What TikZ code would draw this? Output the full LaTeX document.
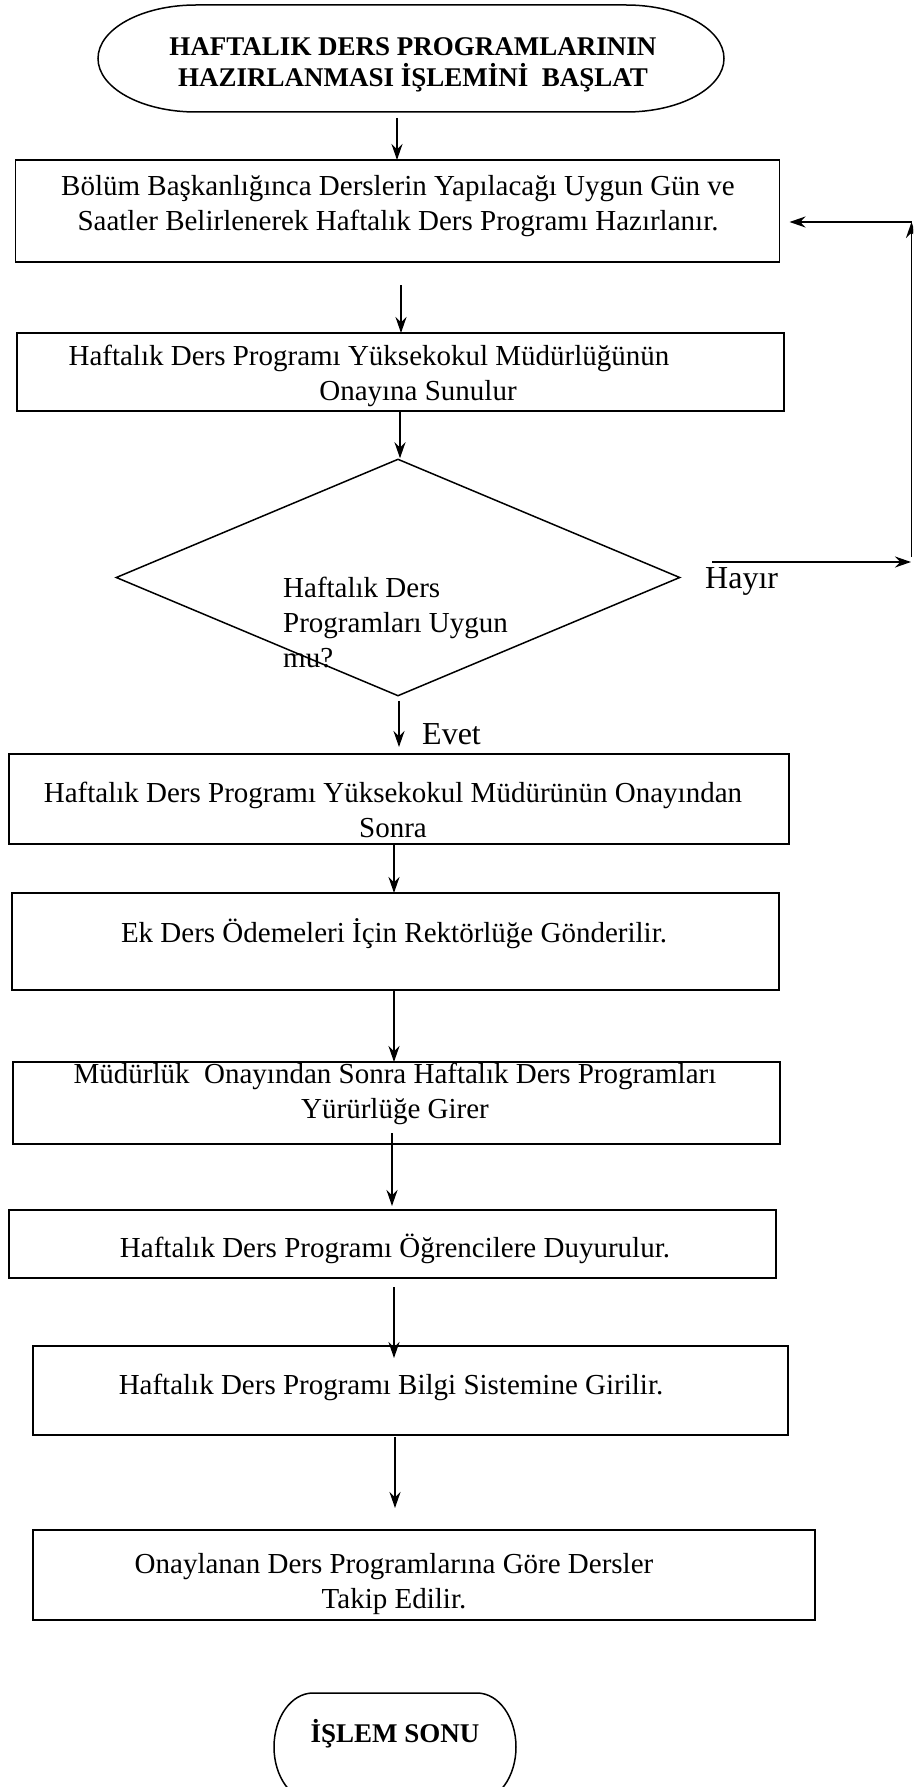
\documentclass[tikz,border=0pt]{standalone}
\usepackage{fontspec}
\setmainfont{Liberation Serif}
\usetikzlibrary{arrows.meta,shapes.geometric}
\tikzset{
  stepbox/.style={draw, line width=1.5pt, inner sep=0pt, outer sep=0pt},
  termbox/.style={inner sep=0pt, outer sep=0pt},
  txt/.style={align=center, inner sep=0pt, font=\fontsize{29}{35}\selectfont},
  ttl/.style={align=center, inner sep=0pt, font=\fontsize{27}{31}\selectfont\bfseries},
  lbl/.style={inner sep=0pt, font=\fontsize{32}{38}\selectfont},
  arr/.style={line width=1.9pt, -{Stealth[length=16pt,width=11pt]}},
}

\begin{document}
\begin{tikzpicture}[x=1pt,y=-1pt]
  \useasboundingbox (0,0) rectangle (913,1787);
  \clip (0,0) rectangle (913,1787);
  % start
  \node[termbox, minimum width=626pt, minimum height=107pt] (start) at (411,58.5) {};
  \draw[line width=1.5pt] ([xshift=98pt]start.north west) -- ([xshift=-98pt]start.north east)
    arc[start angle=-90, end angle=90, x radius=98, y radius=53.5]
    -- ([xshift=98pt]start.south west)
    arc[start angle=90, end angle=270, x radius=98, y radius=53.5] -- cycle;
  \node[ttl, anchor=base] (title) at (413,87) {HAFTALIK DERS PROGRAMLARININ\\HAZIRLANMASI İŞLEMİNİ\ \ BAŞLAT};
  % steps
  \node[stepbox, minimum width=764pt, minimum height=102pt] (b1) at (397.5,211) {};
  \node[txt, anchor=base] (t1) at (398,231) {Bölüm Başkanlığınca Derslerin Yapılacağı Uygun Gün ve\\Saatler Belirlenerek Haftalık Ders Programı Hazırlanır.};
  \node[stepbox, minimum width=767pt, minimum height=78pt] (b2) at (400.5,372) {};
  \node[txt, anchor=base] (t2) at (418,400) {Haftalık Ders Programı Yüksekokul Müdürlüğünün\hspace*{98pt}\\Onayına Sunulur};
  % decision
  \node[draw, diamond, line width=1.5pt, inner sep=0pt, minimum width=564pt, minimum height=237pt] (d) at (398,577.5) {};
  \node[txt, align=left, anchor=base west] (dt) at (283,667) {Haftalık Ders\\Programları Uygun\\mu?};
  \node[lbl, anchor=base west] (no) at (705,588) {Hayır};
  \node[lbl, anchor=base west] (yes) at (422,744) {Evet};
  \node[stepbox, minimum width=780pt, minimum height=90pt] (b3) at (399,799) {};
  \node[txt, anchor=base] (t3) at (393,837) {Haftalık Ders Programı Yüksekokul Müdürünün Onayından\\Sonra};
  \node[stepbox, minimum width=767pt, minimum height=97pt] (b4) at (395.5,941.5) {};
  \node[txt, anchor=base] (t4) at (394,942) {Ek Ders Ödemeleri İçin Rektörlüğe Gönderilir.};
  \node[stepbox, minimum width=767pt, minimum height=82pt] (b5) at (396.5,1103) {};
  \node[txt, anchor=base] (t5) at (395,1118) {Müdürlük\ \ Onayından Sonra Haftalık Ders Programları\\Yürürlüğe Girer};
  \node[stepbox, minimum width=767pt, minimum height=68pt] (b6) at (392.5,1244) {};
  \node[txt, anchor=base] (t6) at (395,1257) {Haftalık Ders Programı Öğrencilere Duyurulur.};
  \node[stepbox, minimum width=755pt, minimum height=89pt] (b7) at (410.5,1390.5) {};
  \node[txt, anchor=base] (t7) at (391,1394) {Haftalık Ders Programı Bilgi Sistemine Girilir.};
  \node[stepbox, minimum width=782pt, minimum height=90pt] (b8) at (424,1575) {};
  \node[txt, anchor=base] (t8) at (394,1608) {Onaylanan Ders Programlarına Göre Dersler\\Takip Edilir.};
  % end
  \node[termbox, minimum width=242pt, minimum height=108pt] (end) at (395,1747) {};
  \draw[line width=1.5pt] ([xshift=39pt]end.north west) -- ([xshift=-39pt]end.north east)
    arc[start angle=-90, end angle=90, x radius=39, y radius=54]
    -- ([xshift=39pt]end.south west)
    arc[start angle=90, end angle=270, x radius=39, y radius=54] -- cycle;
  \node[ttl, anchor=base] (et) at (395,1742) {İŞLEM SONU};
  % arrows
  \draw[arr, shorten <=6pt] (397,0 |- start.south) -- (397,0 |- b1.north);
  \draw[arr, shorten <=23pt] (401,0 |- b1.south) -- (401,0 |- b2.north);
  \draw[arr] (400,0 |- b2.south) -- (400,0 |- d.north);
  \draw[arr, shorten <=4pt, shorten >=7pt] (399,0 |- d.south) -- (399,0 |- b3.north);
  \draw[arr] (394,0 |- b3.south) -- (394,0 |- b4.north);
  \draw[arr] (394,0 |- b4.south) -- (394,0 |- b5.north);
  \draw[arr, shorten <=-11pt, shorten >=4pt] (392,0 |- b5.south) -- (392,0 |- b6.north);
  \draw[arr, shorten <=9pt, shorten >=-12pt] (394,0 |- b6.south) -- (394,0 |- b7.north);
  \draw[arr, shorten <=2pt, shorten >=22pt] (395,0 |- b7.south) -- (395,0 |- b8.north);
  % back loop
  \coordinate (hs) at (712,562);
  \coordinate (he) at (911,562);
  \coordinate (lb) at (911.5,557);
  \coordinate (lt) at (911.5,222);
  \draw[arr] (hs) -- (he);
  \draw[arr] (lb) -- (lt);
  \draw[arr, shorten >=10pt] (lt) -- (b1.east |- lt);
\end{tikzpicture}
\end{document}
